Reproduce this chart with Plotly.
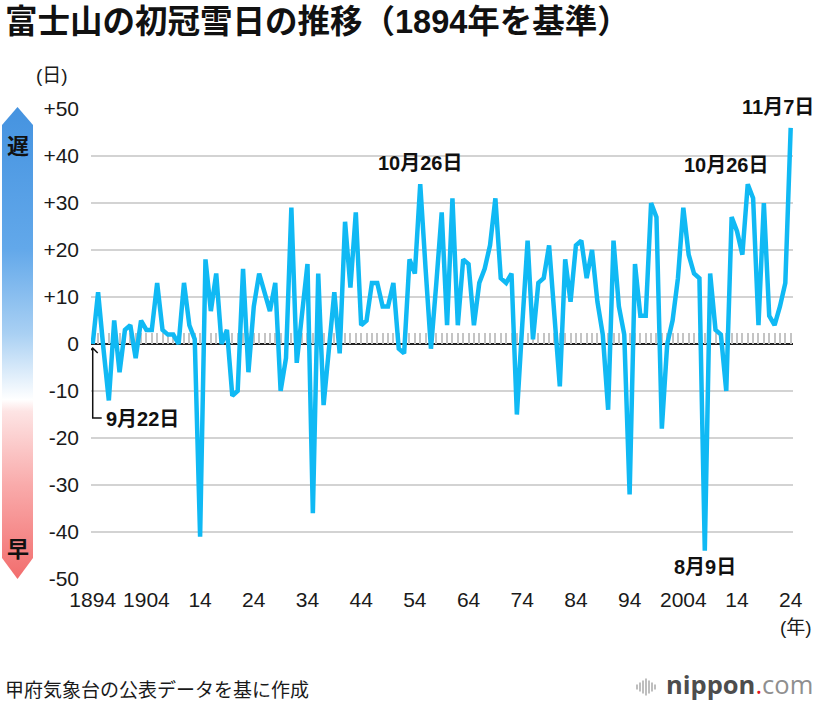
import base64
import plotly.graph_objects as go

# ---------------- data ----------------
years = list(range(1894, 2025))
days = [0, 11, -1, -12, 5, -6, 3, 4, -3, 5,
        3, 3, 13, 3, 2, 2, 0, 13, 4, 1,
        -41, 18, 7, 15, 0, 3, -11, -10, 16, -6,
        8, 15, 11, 7, 13, -10, -3, 29, -4, 6,
        17, -36, 15, -13, -1, 11, -2, 26, 12, 28,
        4, 5, 13, 13, 8, 8, 13, -1, -2, 18,
        15, 34, 16, -1, 13, 28, 4, 31, 4, 18,
        17, 4, 13, 16, 21, 31, 14, 13, 15, -15,
        4, 22, 1, 13, 14, 21, 6, -9, 18, 9,
        21, 22, 14, 20, 9, 2, -14, 22, 8, 2,
        -32, 17, 6, 6, 30, 27, -18, 0, 5, 14,
        29, 19, 15, 14, -44, 15, 3, 2, -10, 27,
        24, 19, 34, 31, 4, 30, 6, 4, 8, 13,
        46]

x_tick_vals = [1894, 1904, 1914, 1924, 1934, 1944, 1954, 1964, 1974, 1984, 1994, 2004, 2014, 2024]
x_tick_text = ["1894", "1904", "14", "24", "34", "44", "54", "64", "74", "84", "94", "2004", "14", "24"]
y_tick_vals = [50, 40, 30, 20, 10, 0, -10, -20, -30, -40, -50]
y_tick_text = ["+50", "+40", "+30", "+20", "+10", "0", "-10", "-20", "-30", "-40", "-50"]

# point labels: (year, text)
point_labels = [(1955, "10月26日"), (2016, "10月26日"), (2024, "11月7日"), (2008, "8月9日")]
start_label = "9月22日"

title_text = "富士山の初冠雪日の推移（1894年を基準）"
source_text = "甲府気象台の公表データを基に作成"

# ---------------- layout helpers ----------------
W, H = 820, 702
ML, MT = 91, 109   # plot area top-left
PW, PH = 702, 470
MR, MB = W - ML - PW, H - MT - PH


def px(x):
    """page x -> paper fraction"""
    return (x - ML) / PW


def py(y):
    """page y -> paper fraction"""
    return (MT + PH - y) / PH


FONT = "Liberation Sans, Noto Sans CJK JP, sans-serif"
JFONT = "Noto Sans CJK JP, sans-serif"
LINE_COLOR = "#10b9f4"

fig = go.Figure()

fig.add_trace(go.Scatter(
    x=years, y=days, mode="lines",
    line=dict(color=LINE_COLOR, width=4.5),
    hoverinfo="skip", showlegend=False,
))
# invisible trace so the tick-only axis (year ticks along zero line) is drawn
fig.add_trace(go.Scatter(
    x=years, y=days, xaxis="x2", mode="lines",
    line=dict(color="rgba(0,0,0,0)", width=0),
    hoverinfo="skip", showlegend=False,
))

x_range = [1893.68, 2024.43]

fig.update_layout(
    width=W, height=H,
    margin=dict(l=ML, r=MR, t=MT, b=MB, pad=0),
    paper_bgcolor="white", plot_bgcolor="white",
    font=dict(family=FONT, color="#1a1a1a"),
    showlegend=False,
    xaxis=dict(
        range=x_range, tickvals=x_tick_vals, ticktext=x_tick_text,
        showgrid=False, zeroline=False, showline=False, ticks="",
        tickfont=dict(size=21, family=FONT, color="#1a1a1a"),
        ticklabelstandoff=6,
    ),
    xaxis2=dict(
        range=x_range, overlaying="x", anchor="free", position=0.5, side="top",
        ticks="outside", ticklen=11, tickwidth=1.5, tickcolor="#c4c4c4",
        tick0=1894, dtick=1, showticklabels=False, showgrid=False,
        zeroline=False, showline=False, layer="below traces",
    ),
    yaxis=dict(
        range=[-50, 50], tickvals=y_tick_vals, ticktext=y_tick_text,
        showgrid=True, gridcolor="#d3d3d3", gridwidth=1.5,
        zeroline=True, zerolinecolor="#222222", zerolinewidth=2,
        showline=False, ticks="",
        tickfont=dict(size=21, family=FONT, color="#1a1a1a"),
        ticklabelstandoff=11,
    ),
)

# ---------------- title ----------------
fig.add_annotation(
    xref="paper", yref="paper", x=px(3), y=py(22), text=title_text, showarrow=False,
    xanchor="left", yanchor="middle",
    font=dict(size=32.5, family=FONT, color="#111111", weight="bold"),
)

# ---------------- point labels ----------------
shifts = {1955: (0, 21), 2016: (-21, 19), 2024: (-13, 21), 2008: (0, -16)}
for yr, txt in point_labels:
    val = days[years.index(yr)]
    dx, dy = shifts[yr]
    fig.add_annotation(
        x=yr, y=val, text=txt, showarrow=False, xanchor="center", yanchor="middle",
        xshift=dx, yshift=dy,
        font=dict(size=20, family=FONT, color="#111111", weight="bold"),
    )

# start label with bracket arrow
fig.add_annotation(
    x=years[0], y=days[0], text=start_label, showarrow=False,
    xanchor="left", yanchor="middle", xshift=11, yshift=-75,
    font=dict(size=20, family=FONT, color="#111111", weight="bold"),
)
fig.add_shape(
    type="path", xref="x", yref="y", xsizemode="pixel", ysizemode="pixel",
    xanchor=years[0], yanchor=days[0],
    path="M -5,-9 L 0,-4 L 5,-9 M 0,-4 L 0,-74 L 9,-74",
    line=dict(color="#111111", width=1.5),
)

# ---------------- gradient bar (late / early) ----------------
bar_svg = (
    '<svg xmlns="http://www.w3.org/2000/svg" width="31" height="472" viewBox="0 0 31 472" '
    'preserveAspectRatio="none">'
    '<defs><linearGradient id="g" x1="0" y1="0" x2="0" y2="1">'
    '<stop offset="0" stop-color="#4593e0"/>'
    '<stop offset="0.30" stop-color="#62a8ea"/>'
    '<stop offset="0.48" stop-color="#a9d0f3"/>'
    '<stop offset="0.62" stop-color="#ffffff"/>'
    '<stop offset="0.645" stop-color="#fde4e4"/>'
    '<stop offset="0.80" stop-color="#f9abab"/>'
    '<stop offset="1" stop-color="#f26d6d"/>'
    '</linearGradient></defs>'
    '<polygon points="15.5,0 31,18 31,451 15.5,472 0,451 0,18" fill="url(#g)"/>'
    '</svg>'
)
bar_src = "data:image/svg+xml;base64," + base64.b64encode(bar_svg.encode()).decode()
fig.add_layout_image(
    source=bar_src, xref="paper", yref="paper",
    x=px(2), y=py(107), sizex=31 / PW, sizey=472 / PH,
    xanchor="left", yanchor="top", sizing="stretch", layer="below",
)
fig.add_annotation(
    xref="paper", yref="paper", x=px(17.5), y=py(144), text="遅", showarrow=False,
    xanchor="center", yanchor="middle",
    font=dict(size=22, family=JFONT, color="#111111", weight="bold"),
)
fig.add_annotation(
    xref="paper", yref="paper", x=px(17.5), y=py(547), text="早", showarrow=False,
    xanchor="center", yanchor="middle",
    font=dict(size=22, family=JFONT, color="#111111", weight="bold"),
)

# ---------------- unit labels ----------------
fig.add_annotation(
    xref="paper", yref="paper", x=px(52), y=py(75), text="(日)", showarrow=False,
    xanchor="center", yanchor="middle", font=dict(size=19, family=FONT, color="#1a1a1a"),
)
fig.add_annotation(
    xref="paper", yref="paper", x=px(796), y=py(627), text="(年)", showarrow=False,
    xanchor="center", yanchor="middle", font=dict(size=19, family=FONT, color="#1a1a1a"),
)

# ---------------- footer ----------------
fig.add_annotation(
    xref="paper", yref="paper", x=px(3), y=py(688), text=source_text, showarrow=False,
    xanchor="left", yanchor="middle", font=dict(size=19, family=JFONT, color="#1a1a1a"),
)
fig.add_annotation(
    xref="paper", yref="paper", x=px(664), y=py(684),
    text="<b>nippon</b><span style='color:#e4141b'>.</span><span style='color:#8f8f8f'>com</span>",
    showarrow=False, xanchor="left", yanchor="middle",
    font=dict(size=25.5, family="Open Sans, sans-serif", color="#4d4d4d"),
)
icon_bars = [(637, 5), (640, 9), (643, 13), (646, 17), (649, 13), (652, 9), (655, 5)]
for bx, bh in icon_bars:
    fig.add_shape(
        type="line", xref="paper", yref="paper",
        x0=px(bx), x1=px(bx), y0=py(687 - bh / 2), y1=py(687 + bh / 2),
        line=dict(color="#a8a8a8", width=1.5),
    )

# remove the default page margin so the 820x702 figure fills the window exactly
fig.write_html(
    "out.html",
    config={"displayModeBar": False},
    post_script="document.body.style.margin='0px';",
)
